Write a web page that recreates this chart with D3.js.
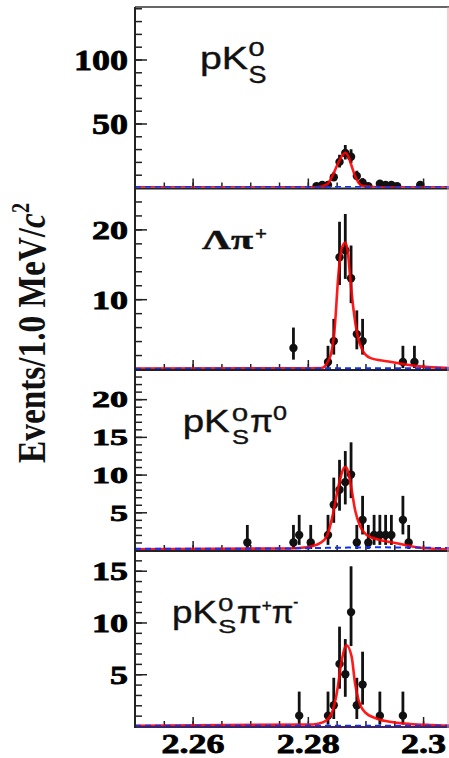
<!DOCTYPE html>
<html>
<head>
<meta charset="utf-8">
<script src="https://cdn.jsdelivr.net/npm/d3@7"></script>
<style>
  body { margin: 0; background: #fff; }
  svg { display: block; }
</style>
</head>
<body>
<script>
// bin centres (GeV/c^2) and event counts, one set per mode
var pkBins   = [2.2815, 2.2825, 2.2835, 2.2845, 2.2855, 2.2865, 2.2875, 2.2885, 2.2895, 2.2905, 2.2925, 2.2935, 2.2945, 2.2955, 2.2995];
var pkCounts = [1, 2, 2, 8, 20, 27, 24, 9, 4, 1, 3, 2, 2, 1, 2];

var lamBins   = [2.2775, 2.2835, 2.2845, 2.2855, 2.2865, 2.2875, 2.2885, 2.2895, 2.2965, 2.2985];
var lamCounts = [3, 1, 4, 16, 17, 13, 5, 4, 1, 1];

var pkpi0Bins   = [2.2695, 2.2775, 2.2785, 2.2805, 2.2835, 2.2845, 2.2855, 2.2865, 2.2875, 2.2885, 2.2895, 2.2905, 2.2915, 2.2925, 2.2935, 2.2945, 2.2965, 2.2975];
var pkpi0Counts = [1, 1, 2, 1, 2, 6, 8, 9, 10, 1, 4, 1, 2, 2, 2, 2, 4, 1];

var pkpipiBins   = [2.2785, 2.2835, 2.2845, 2.2855, 2.2865, 2.2875, 2.2885, 2.2895, 2.2925, 2.2965];
var pkpipiCounts = [1, 1, 2, 6, 5, 11, 2, 4, 1, 1];

// fit curves (red) as [mass, events]
var pkFit = [[2.2500,0.1],[2.2815,0.2],[2.2833,2.4],[2.2844,10.3],[2.2853,19.4],[2.2865,27.2],[2.2870,24.6],
  [2.2876,16.8],[2.2882,8.9],[2.2888,3.7],[2.2896,1.1],[2.2914,0.4],[2.2954,0.2],[2.3045,0.1]];
var lamFit = [[2.2500,0.05],[2.2786,0.1],[2.2824,0.15],[2.2838,1.6],[2.2847,6.3],[2.2853,13.5],[2.2859,17.3],
  [2.2865,18.1],[2.2870,16.3],[2.2873,13.5],[2.2879,8.7],[2.2886,4.9],[2.2896,2.5],[2.2908,1.6],[2.2937,1.1],
  [2.2966,0.7],[2.2995,0.37],[2.3045,0.15]];
var pkpi0Fit = [[2.2500,0.1],[2.2769,0.2],[2.2798,0.36],[2.2821,0.9],[2.2833,1.8],[2.2844,4.9],[2.2853,8.4],
  [2.2862,10.8],[2.2865,11.0],[2.2870,10.4],[2.2876,8.0],[2.2882,5.3],[2.2891,3.1],[2.2902,2.0],[2.2925,1.33],
  [2.2954,0.9],[2.2983,0.44],[2.3012,0.2],[2.3045,0.1]];
var pkpipiFit = [[2.2500,0.02],[2.2809,0.15],[2.2827,0.37],[2.2841,1.2],[2.2850,3.1],[2.2859,6.4],[2.2867,7.8],
  [2.2876,6.7],[2.2882,4.1],[2.2888,2.5],[2.2899,1.35],[2.2920,0.7],[2.2948,0.37],[2.2977,0.2],[2.3012,0.1],[2.3045,0.05]];

// background (blue dashed)
var pkBkg     = [[2.2500,0.3],[2.3045,0.3]];
var lamBkg    = [[2.2500,0.05],[2.2800,0.08],[2.2900,0.12],[2.3045,0.1]];
var pkpi0Bkg  = [[2.2500,0.15],[2.2750,0.2],[2.2850,0.3],[2.2920,0.35],[2.3045,0.25]];
var pkpipiBkg = [[2.2500,0.03],[2.3045,0.03]];

// y axis ranges and tick steps per panel
var yMaxes  = [141, 26, 24, 17];
var yMajors = [50, 10, 5, 5];
var yMinors = [10, 2, 1, 1];

// x axis ticks
var xMajorTicks = [2.26, 2.28, 2.30];
var xTickLabels = ["2.26", "2.28", "2.3"];

var W = 449, H = 758;
var left = 135;
var panelTop = [7, 187.5, 369, 550];
var panelBottom = [187.5, 369, 550, 726];
var labelSize = [30, 26, 23, 26];

var svg = d3.select("body").append("svg")
    .attr("width", W)
    .attr("height", H);

var x = d3.scaleLinear().domain([2.25, 2.3045]).range([left, 449]);

var panels = [
  { bins: pkBins, counts: pkCounts, fit: pkFit, bkg: pkBkg },
  { bins: lamBins, counts: lamCounts, fit: lamFit, bkg: lamBkg },
  { bins: pkpi0Bins, counts: pkpi0Counts, fit: pkpi0Fit, bkg: pkpi0Bkg },
  { bins: pkpipiBins, counts: pkpipiCounts, fit: pkpipiFit, bkg: pkpipiBkg }
];

// approximate 68% Poisson interval
function errLo(n){ return n - Math.sqrt(n - 0.25); }
function errHi(n){ return n + 1 + Math.sqrt(n + 0.75); }

var serif = "'Liberation Serif', 'Times New Roman', serif";
var sans = "'Liberation Sans', Arial, Helvetica, sans-serif";

var xMinorTicks = d3.range(451, 461).map(function(k){ return k / 200; });

panels.forEach(function(p, i){
  var y = d3.scaleLinear().domain([0, yMaxes[i]]).range([panelBottom[i], panelTop[i]]);
  var g = svg.append("g").attr("class", "panel");

  g.append("clipPath").attr("id", "clip" + i)
    .append("rect")
    .attr("x", left).attr("y", panelTop[i])
    .attr("width", W - left).attr("height", panelBottom[i] - panelTop[i]);

  // y minor ticks
  g.append("g")
    .attr("transform", "translate(" + left + ",0)")
    .call(d3.axisLeft(y).tickValues(d3.range(yMinors[i], yMaxes[i], yMinors[i]))
      .tickSizeInner(-7).tickSizeOuter(0).tickFormat(""))
    .call(function(a){ a.select(".domain").remove(); })
    .selectAll("line").attr("stroke", "#222").attr("stroke-width", 1.5);

  // y major ticks with labels
  var maj = g.append("g")
    .attr("transform", "translate(" + left + ",0)")
    .call(d3.axisLeft(y).tickValues(d3.range(yMajors[i], yMaxes[i], yMajors[i]))
      .tickSizeInner(-12).tickSizeOuter(0).tickPadding(7))
    .call(function(a){ a.select(".domain").remove(); });
  maj.selectAll("line").attr("stroke", "#222").attr("stroke-width", 1.5);
  maj.selectAll("text")
    .attr("font-family", serif)
    .attr("font-weight", "bold")
    .attr("font-size", labelSize[i])
    .attr("fill", "#000")
    .attr("stroke", "#000")
    .attr("stroke-width", 0.8)
    .attr("dy", "0.34em")
    .attr("textLength", function(d){ return String(d).length * 18; })
    .attr("lengthAdjust", "spacingAndGlyphs");

  // x ticks pointing up
  var xa = g.append("g").attr("transform", "translate(0," + panelBottom[i] + ")");
  xa.append("g")
    .call(d3.axisBottom(x).tickValues(xMinorTicks).tickSizeInner(-5).tickSizeOuter(0).tickFormat(""))
    .call(function(a){ a.select(".domain").remove(); })
    .selectAll("line").attr("stroke", "#222").attr("stroke-width", 1.5);
  var xm = xa.append("g")
    .call(d3.axisBottom(x).tickValues(xMajorTicks).tickSizeInner(-9).tickSizeOuter(0)
      .tickPadding(12)
      .tickFormat(function(d, k){ return i === 3 ? xTickLabels[k] : ""; }))
    .call(function(a){ a.select(".domain").remove(); });
  xm.selectAll("line").attr("stroke", "#222").attr("stroke-width", 1.5);
  xm.selectAll("text")
    .attr("font-family", serif)
    .attr("font-weight", "bold")
    .attr("font-size", 28)
    .attr("fill", "#000")
    .attr("stroke", "#000")
    .attr("stroke-width", 0.8)
    .attr("y", 27)
    .attr("dy", null)
    .attr("textLength", function(d, k){ var s = xTickLabels[k]; return (s.length - 1) * 18 + 9; })
    .attr("lengthAdjust", "spacingAndGlyphs");

  // frame: bottom line of the panel
  g.append("line")
    .attr("x1", left).attr("x2", W)
    .attr("y1", panelBottom[i] + 1).attr("y2", panelBottom[i] + 1)
    .attr("stroke", i === 3 ? "#3a2468" : "#222").attr("stroke-width", 2);

  var plot = g.append("g").attr("clip-path", "url(#clip" + i + ")");

  // error bars
  plot.selectAll(".err")
    .data(p.bins)
    .enter()
    .append("line")
    .attr("class", "err")
    .attr("x1", function(d){ return x(d); })
    .attr("x2", function(d){ return x(d); })
    .attr("y1", function(d, k){ return y(errLo(p.counts[k])); })
    .attr("y2", function(d, k){ return y(errHi(p.counts[k])); })
    .attr("stroke", "#111")
    .attr("stroke-width", 2.8);

  // points
  plot.selectAll(".dot")
    .data(p.bins)
    .enter()
    .append("circle")
    .attr("class", "dot")
    .attr("cx", function(d){ return x(d); })
    .attr("cy", function(d, k){ return y(p.counts[k]); })
    .attr("r", 4.2)
    .attr("fill", "#111");

  var line = d3.line()
    .x(function(d){ return x(d[0]); })
    .y(function(d){ return y(d[1]); })
    .curve(d3.curveMonotoneX);

  plot.append("path")
    .datum(p.fit)
    .attr("d", line)
    .attr("fill", "none")
    .attr("stroke", "#ff0000")
    .attr("stroke-opacity", 0.9)
    .attr("stroke-width", 2.6);

  plot.append("path")
    .datum(p.bkg)
    .attr("d", line)
    .attr("fill", "none")
    .attr("stroke", "#1030ff")
    .attr("stroke-width", 2)
    .attr("stroke-dasharray", "6,4");
});

// left axis and top border
svg.append("line")
  .attr("x1", left).attr("x2", left)
  .attr("y1", panelTop[0]).attr("y2", panelBottom[3] + 2)
  .attr("stroke", "#222").attr("stroke-width", 2);
svg.append("line")
  .attr("x1", left).attr("x2", W)
  .attr("y1", panelTop[0]).attr("y2", panelTop[0])
  .attr("stroke", "#333").attr("stroke-width", 1.5);
// right border (faint red in the picture)
svg.append("line")
  .attr("x1", 448).attr("x2", 448)
  .attr("y1", panelTop[0]).attr("y2", panelBottom[3] + 2)
  .attr("stroke", "#f29a9a").attr("stroke-width", 1);

// decay mode labels, built from parts
function part(txt, px, py, size, len, fam, bold){
  svg.append("text")
    .attr("x", px).attr("y", py)
    .attr("font-family", fam || sans)
    .attr("font-weight", bold ? "bold" : "normal")
    .attr("font-size", size)
    .attr("textLength", len)
    .attr("lengthAdjust", "spacingAndGlyphs")
    .attr("fill", "#111")
    .attr("stroke", "#111")
    .attr("stroke-width", 0.4)
    .text(txt);
}
part("pK", 200, 69, 32, 48);
part("0", 248.5, 56, 20, 16);
part("S", 248.5, 82.5, 24, 18);

part("\u039b\u03c0", 202, 249, 27, 51, serif, true);
part("+", 255, 240, 18, 12, serif, true);

part("pK", 182.7, 431.7, 31, 47);
part("0", 232, 420.5, 18, 16);
part("S", 232, 444, 21, 17);
part("\u03c0", 250, 431.7, 31, 23);
part("0", 273, 420, 20, 14);

part("pK", 172, 623.3, 32, 45);
part("0", 218.3, 611, 18, 15);
part("S", 218.3, 632.5, 18, 18);
part("\u03c0", 236.7, 623.3, 32, 25);
part("+", 261.7, 611, 16, 10);
part("\u03c0", 271.7, 623.3, 32, 21.6);
part("-", 293.3, 607, 16, 5);

// y axis title
var yt = svg.append("text")
  .attr("transform", "translate(45,333) scale(1.22,1) rotate(-90)")
  .attr("text-anchor", "middle")
  .attr("font-family", serif)
  .attr("font-weight", "bold")
  .attr("font-size", 33)
  .attr("fill", "#111")
  .attr("textLength", 260)
  .attr("lengthAdjust", "spacingAndGlyphs");
yt.append("tspan").text("Events/1.0 MeV/");
yt.append("tspan").attr("font-style", "italic").text("c");
yt.append("tspan").attr("font-size", 20).attr("dy", -13).text("2");
</script>
</body>
</html>
